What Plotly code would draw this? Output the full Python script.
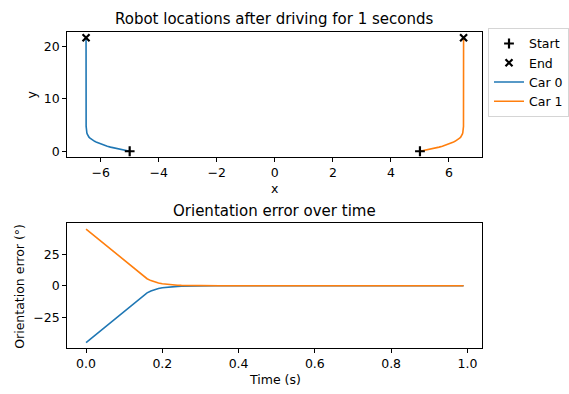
import plotly.graph_objects as go

# Car trajectories (x, y) in metres
car0_x = [-5.000, -5.146, -5.285, -5.417, -5.543, -5.661, -5.772, -5.875, -5.970, -6.057,
          -6.136, -6.206, -6.268, -6.322, -6.366, -6.402, -6.429, -6.449, -6.464, -6.475,
          -6.483, -6.493, -6.500, -6.503]
car0_y = [0.000, 0.146, 0.297, 0.455, 0.619, 0.787, 0.961, 1.139, 1.322, 1.509,
          1.699, 1.893, 2.089, 2.288, 2.489, 2.692, 2.896, 3.101, 3.307, 3.513,
          3.718, 4.130, 4.750, 21.700]
car1_x = [5.000, 5.146, 5.285, 5.417, 5.543, 5.661, 5.772, 5.875, 5.970, 6.057,
          6.136, 6.206, 6.268, 6.322, 6.366, 6.402, 6.429, 6.449, 6.464, 6.475,
          6.483, 6.493, 6.500, 6.503]
car1_y = [0.000, 0.146, 0.297, 0.455, 0.619, 0.787, 0.961, 1.139, 1.322, 1.509,
          1.699, 1.893, 2.089, 2.288, 2.489, 2.692, 2.896, 3.101, 3.307, 3.513,
          3.718, 4.130, 4.750, 21.700]

# Orientation error (degrees) over time (s)
time_s = [0.00, 0.01, 0.02, 0.03, 0.04, 0.05, 0.06, 0.07, 0.08, 0.09,
          0.10, 0.11, 0.12, 0.13, 0.14, 0.15, 0.16, 0.17, 0.18, 0.19,
          0.20, 0.21, 0.22, 0.23, 0.24, 0.25, 0.26, 0.27, 0.28, 0.29,
          0.30, 0.31, 0.32, 0.33, 0.34, 0.35, 0.99]
err_car0 = [-45.0, -42.5, -40.0, -37.5, -35.0, -32.5, -30.0, -27.5, -25.0, -22.5,
            -20.0, -17.5, -15.0, -12.5, -10.0, -7.6, -5.6, -4.1, -3.0, -2.2,
            -1.6, -1.2, -0.85, -0.62, -0.45, -0.33, -0.24, -0.18, -0.13, -0.09,
            -0.07, -0.05, -0.04, -0.03, -0.02, -0.01, 0.0]
err_car1 = [45.0, 42.5, 40.0, 37.5, 35.0, 32.5, 30.0, 27.5, 25.0, 22.5,
            20.0, 17.5, 15.0, 12.5, 10.0, 7.6, 5.6, 4.1, 3.0, 2.2,
            1.6, 1.2, 0.85, 0.62, 0.45, 0.33, 0.24, 0.18, 0.13, 0.09,
            0.07, 0.05, 0.04, 0.03, 0.02, 0.01, 0.0]

BLUE = "#1f77b4"
ORANGE = "#ff7f0e"
FONT = "DejaVu Sans"
W, H = 569, 394
FS = 12.5      # tick / label / legend size
FS_TITLE = 15  # panel titles


def px_x(p):
    return p / W


def px_y(p):
    return (H - p) / H


fig = go.Figure()

# Top panel: trajectories
fig.add_trace(go.Scatter(x=car0_x, y=car0_y, mode="lines", name="Car 0",
                         line=dict(color=BLUE, width=1.6), legendrank=3,
                         xaxis="x", yaxis="y"))
fig.add_trace(go.Scatter(x=car1_x, y=car1_y, mode="lines", name="Car 1",
                         line=dict(color=ORANGE, width=1.6), legendrank=4,
                         xaxis="x", yaxis="y"))
fig.add_trace(go.Scatter(x=[car0_x[0], car1_x[0]], y=[car0_y[0], car1_y[0]],
                         mode="markers", name="Start", legendrank=1,
                         marker=dict(symbol="cross-thin", size=7, color="black",
                                     line=dict(color="black", width=2.2)),
                         xaxis="x", yaxis="y"))
fig.add_trace(go.Scatter(x=[car0_x[-1], car1_x[-1]], y=[car0_y[-1], car1_y[-1]],
                         mode="markers", name="End", legendrank=2,
                         marker=dict(symbol="x-thin", size=7, color="black",
                                     line=dict(color="black", width=2.2)),
                         xaxis="x", yaxis="y"))

# Bottom panel: orientation error
fig.add_trace(go.Scatter(x=time_s, y=err_car0, mode="lines", showlegend=False,
                         line=dict(color=BLUE, width=1.6), xaxis="x2", yaxis="y2"))
fig.add_trace(go.Scatter(x=time_s, y=err_car1, mode="lines", showlegend=False,
                         line=dict(color=ORANGE, width=1.6), xaxis="x2", yaxis="y2"))

axis_style = dict(showline=True, linecolor="black", linewidth=1, mirror=True,
                  ticks="outside", ticklen=4, tickwidth=1, tickcolor="black",
                  showgrid=False, zeroline=False,
                  tickfont=dict(family=FONT, size=FS, color="black"))

top_dom_x = [px_x(67.3), px_x(483.3)]
top_dom_y = [px_y(157.7), px_y(32.3)]
bot_dom_y = [px_y(350.0), px_y(224.5)]

fig.update_layout(
    width=W, height=H, autosize=False,
    margin=dict(l=0, r=0, t=0, b=0),
    paper_bgcolor="white", plot_bgcolor="white",
    font=dict(family=FONT, size=FS, color="black"),
    xaxis=dict(domain=top_dom_x, range=[-7.153, 7.153], tickvals=[-6, -4, -2, 0, 2, 4, 6],
               anchor="y", **axis_style),
    yaxis=dict(domain=top_dom_y, range=[-1.085, 22.785], tickvals=[0, 10, 20],
               anchor="x", **axis_style),
    xaxis2=dict(domain=top_dom_x, range=[-0.0495, 1.0395],
                tickvals=[0.0, 0.2, 0.4, 0.6, 0.8, 1.0], tickformat=".1f",
                anchor="y2", **axis_style),
    yaxis2=dict(domain=bot_dom_y, range=[-49.5, 49.5], tickvals=[-25, 0, 25],
                anchor="x2", **axis_style),
    legend=dict(x=px_x(489), y=px_y(28), xanchor="left", yanchor="top",
                bordercolor="#d5d5d5", borderwidth=1, bgcolor="white",
                font=dict(family=FONT, size=FS, color="black"),
                tracegroupgap=0, itemwidth=30),
    annotations=[
        dict(text="Robot locations after driving for 1 seconds", x=px_x(275.3), y=px_y(19),
             xref="paper", yref="paper", showarrow=False, xanchor="center", yanchor="middle",
             font=dict(family=FONT, size=FS_TITLE, color="black")),
        dict(text="x", x=px_x(275.3), y=px_y(189), xref="paper", yref="paper",
             showarrow=False, xanchor="center", yanchor="middle",
             font=dict(family=FONT, size=FS, color="black")),
        dict(text="y", x=px_x(32), y=px_y(95), xref="paper", yref="paper", textangle=-90,
             showarrow=False, xanchor="center", yanchor="middle",
             font=dict(family=FONT, size=FS, color="black")),
        dict(text="Orientation error over time", x=px_x(275.3), y=px_y(212),
             xref="paper", yref="paper", showarrow=False, xanchor="center", yanchor="middle",
             font=dict(family=FONT, size=FS_TITLE, color="black")),
        dict(text="Time (s)", x=px_x(275.3), y=px_y(381), xref="paper", yref="paper",
             showarrow=False, xanchor="center", yanchor="middle",
             font=dict(family=FONT, size=FS, color="black")),
        dict(text="Orientation error (°)", x=px_x(20), y=px_y(287.3), xref="paper",
             yref="paper", textangle=-90, showarrow=False, xanchor="center",
             yanchor="middle", font=dict(family=FONT, size=FS, color="black")),
    ],
)

fig.write_html("out.html")
